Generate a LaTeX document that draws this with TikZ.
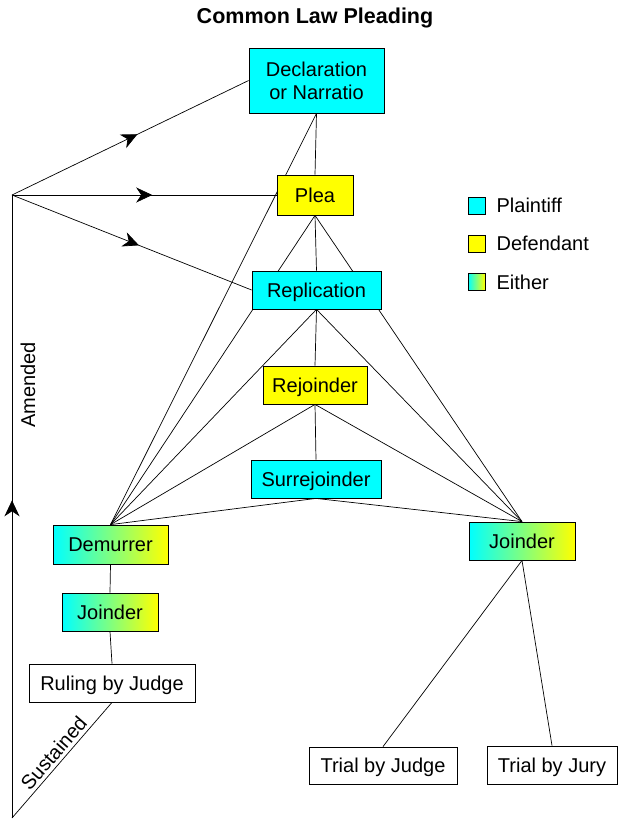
\documentclass[tikz,border=0pt]{standalone}
\usepackage{fontspec}
\setmainfont{Liberation Sans}
\usepackage{tikz}
\usetikzlibrary{positioning,arrows.meta,decorations.markings,backgrounds}
\definecolor{plaintiffcyan}{RGB}{0,255,255}
\definecolor{defendantyellow}{RGB}{255,255,0}

\begin{document}
\begin{tikzpicture}[x=1pt,y=-1pt,
		every node/.style={font=\fontsize{20}{23}\selectfont},
		box/.style={draw,line width=0.8pt,minimum height=38pt,inner sep=0pt,text height=14.3pt,text depth=0pt},
		plaintiff/.style={box,fill=plaintiffcyan},
		defendant/.style={box,fill=defendantyellow},
		either/.style={box,left color=plaintiffcyan,right color=defendantyellow},
		court/.style={box,fill=white},
		link/.style={line width=0.7pt},
		midarrow/.style={link,postaction={decorate},decoration={markings,
				mark=at position #1 with {\arrow{Stealth[length=16pt,width=15pt,inset=5pt]}}}},
		midarrow/.default=0.53
	]
	\useasboundingbox (0,0) rectangle (624,838);
	\node[font=\fontsize{21.5}{25}\selectfont\bfseries] (title) at (315,18) {Common Law Pleading};

	% pleadings
	\node[plaintiff,minimum width=135pt,minimum height=65pt,align=center,text height=,text depth=] (decl) at (316.5,80.5) {Declaration\\or Narratio};
	\node[defendant,minimum width=76pt,minimum height=40pt] (plea) at (315,195) {Plea};
	\node[plaintiff,minimum width=129pt] (repl) at (316.5,290) {Replication};
	\node[defendant,minimum width=104pt] (rejoin) at (315,385) {Rejoinder};
	\node[plaintiff,minimum width=130pt] (surrej) at (316,479) {Surrejoinder};

	% issues
	\node[either,minimum width=115pt,minimum height=39pt] (demurrer) at (110.5,544.5) {Demurrer};
	\node[either,minimum width=96pt] (joinL) at (110,612) {Joinder};
	\node[court,minimum width=166pt] (ruling) at (112,683) {Ruling by Judge};
	\node[either,minimum width=106pt] (joinR) at (522,541) {Joinder};
	\node[court,minimum width=148pt,minimum height=37pt] (trialJudge) at (383,765.5) {Trial by Judge};
	\node[court,minimum width=130pt] (trialJury) at (552,765) {Trial by Jury};

	% key
	\node[plaintiff,minimum width=17pt,minimum height=17pt] (keyP) at (476.5,205.5) {};
	\node[defendant,minimum width=17pt,minimum height=17pt] (keyD) at (476.5,243.5) {};
	\node[either,minimum width=17pt,minimum height=17pt] (keyE) at (476.5,282) {};
	\node[right=11pt of keyP,inner sep=0pt] (keyPtext) {Plaintiff};
	\node[right=11pt of keyD,inner sep=0pt] (keyDtext) {Defendant};
	\node[right=11pt of keyE,inner sep=0pt] (keyEtext) {Either};

	\coordinate (fork) at (12,195);
	\coordinate (base) at (12,818);

	\begin{scope}[on background layer]
		\draw[link] (decl.south) -- (plea.north);
		\draw[link] (plea.south) -- (repl.north);
		\draw[link] (repl.south) -- (rejoin.north);
		\draw[link] (rejoin.south) -- (surrej.north);
		\foreach \src in {decl,plea,repl,rejoin,surrej}
			\draw[link] (\src.south) -- (demurrer.north);
		\foreach \src in {plea,repl,rejoin,surrej}
			\draw[link] (\src.south) -- (joinR.north);
		\draw[link] (demurrer.south) -- (joinL.north);
		\draw[link] (joinL.south) -- (ruling.north);
		\draw[link] (joinR.south) -- (trialJudge.north);
		\draw[link] (joinR.south) -- (trialJury.north);

		% back to the pleadings
		\draw[link] (base) -- node[sloped,above] {Sustained} (ruling.south);
		\draw[midarrow=0.51] (base) -- node[pos=0.695,sloped,below=5pt] {Amended} (fork);
		\draw[midarrow] (fork) -- (decl.west);
		\draw[midarrow] (fork) -- (plea.west);
		\draw[midarrow] (fork) -- (repl.west);
	\end{scope}
\end{tikzpicture}
\end{document}
